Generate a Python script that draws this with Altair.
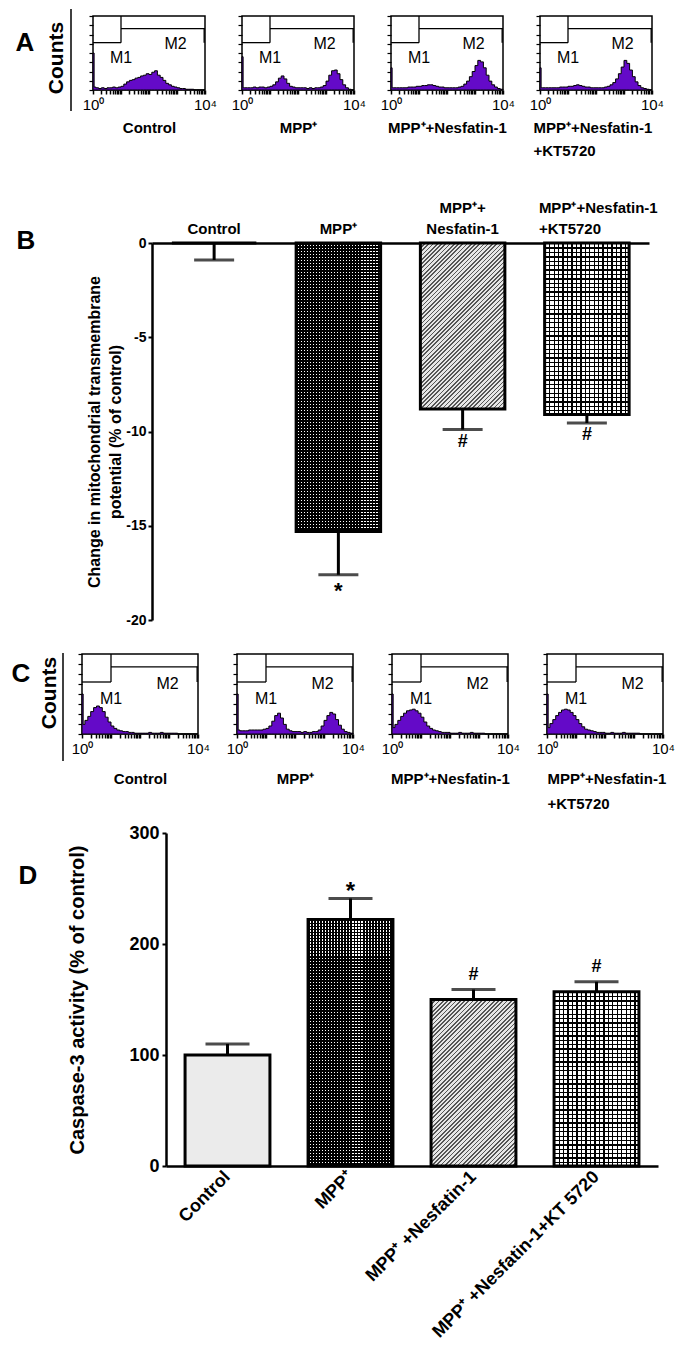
import math
import pandas as pd
import altair as alt

FONT = "Liberation Sans, Arial, Helvetica, sans-serif"
PURPLE = "#640ac8"

# ---------------- flow-cytometry histograms (fraction of box height) ----------------
# bin starts on the log10 axis: first narrow bin (first-channel spike), then 0.1-decade bins
HIST_X = [0.0, 0.04] + [round(0.1 * i, 1) for i in range(1, 41)]

A_CONTROL = [0.50, 0.04,
             0.03, 0.02, 0.03, 0.02, 0.03, 0.03, 0.04, 0.03, 0.04, 0.05,
             0.08, 0.11, 0.13, 0.14, 0.16, 0.17, 0.19, 0.20, 0.22, 0.21,
             0.24, 0.26, 0.20, 0.17, 0.13, 0.09, 0.07, 0.05, 0.04, 0.03,
             0.02, 0.02, 0.01, 0.01, 0.01, 0.00, 0.00, 0.00, 0.00, 0.00]
A_MPP = [0.45, 0.03,
         0.03, 0.03, 0.03, 0.04, 0.03, 0.04, 0.04, 0.03, 0.04, 0.05,
         0.07, 0.11, 0.16, 0.19, 0.15, 0.09, 0.05, 0.04, 0.03, 0.03,
         0.03, 0.03, 0.02, 0.03, 0.02, 0.03, 0.03, 0.04, 0.06, 0.12,
         0.20, 0.26, 0.27, 0.22, 0.14, 0.07, 0.03, 0.01, 0.00, 0.00]
A_NES = [0.30, 0.03,
         0.03, 0.03, 0.03, 0.03, 0.03, 0.04, 0.04, 0.04, 0.05, 0.05,
         0.06, 0.06, 0.07, 0.07, 0.06, 0.05, 0.04, 0.04, 0.03, 0.03,
         0.03, 0.03, 0.03, 0.04, 0.05, 0.08, 0.12, 0.18, 0.25, 0.33,
         0.40, 0.38, 0.30, 0.20, 0.12, 0.07, 0.04, 0.02, 0.01, 0.00]
A_KT = [0.30, 0.03,
        0.03, 0.03, 0.03, 0.03, 0.03, 0.03, 0.04, 0.04, 0.04, 0.05,
        0.05, 0.06, 0.07, 0.06, 0.05, 0.04, 0.04, 0.03, 0.03, 0.03,
        0.03, 0.03, 0.04, 0.05, 0.07, 0.10, 0.15, 0.22, 0.31, 0.40,
        0.36, 0.27, 0.18, 0.11, 0.06, 0.03, 0.02, 0.01, 0.00, 0.00]

C_CONTROL = [0.50, 0.12,
             0.17, 0.22, 0.28, 0.33, 0.35, 0.33, 0.28, 0.21, 0.15, 0.10,
             0.07, 0.05, 0.04, 0.03, 0.03, 0.02, 0.02, 0.01, 0.01, 0.01,
             0.01, 0.01, 0.02, 0.01, 0.01, 0.01, 0.02, 0.01, 0.01, 0.01,
             0.01, 0.01, 0.00, 0.00, 0.00, 0.00, 0.00, 0.00, 0.00, 0.00]
C_MPP = [0.50, 0.05,
         0.04, 0.04, 0.04, 0.05, 0.05, 0.05, 0.05, 0.05, 0.06, 0.07,
         0.10, 0.16, 0.23, 0.26, 0.20, 0.12, 0.06, 0.04, 0.03, 0.03,
         0.03, 0.02, 0.03, 0.02, 0.02, 0.03, 0.03, 0.05, 0.10, 0.17,
         0.23, 0.27, 0.25, 0.18, 0.11, 0.06, 0.03, 0.02, 0.01, 0.00]
C_NES = [0.50, 0.08,
         0.12, 0.17, 0.22, 0.26, 0.29, 0.30, 0.31, 0.29, 0.26, 0.21,
         0.15, 0.10, 0.07, 0.05, 0.04, 0.03, 0.02, 0.02, 0.02, 0.01,
         0.01, 0.01, 0.02, 0.01, 0.01, 0.01, 0.02, 0.01, 0.01, 0.01,
         0.01, 0.00, 0.00, 0.00, 0.00, 0.00, 0.00, 0.00, 0.00, 0.00]
C_KT = [0.50, 0.08,
        0.13, 0.18, 0.23, 0.27, 0.30, 0.31, 0.30, 0.27, 0.23, 0.18,
        0.13, 0.09, 0.06, 0.05, 0.04, 0.03, 0.02, 0.02, 0.02, 0.01,
        0.01, 0.02, 0.01, 0.01, 0.01, 0.02, 0.01, 0.01, 0.01, 0.01,
        0.01, 0.00, 0.00, 0.00, 0.00, 0.00, 0.00, 0.00, 0.00, 0.00]

HIST_TITLES = ["Control", "MPP⁺", "MPP⁺+Nesfatin-1", ["MPP⁺+Nesfatin-1", "+KT5720"]]
GATE_SPLIT = 1.0
A_M1, A_M2 = 0.64, 0.83
C_M1, C_M2 = 0.65, 0.84

# ---------------- bar panels ----------------
B_CATS = ["Control", "MPP⁺", "MPP⁺+Nesfatin-1", "MPP⁺+Nesfatin-1+KT5720"]
B_LABELS = ["Control", "MPP⁺", "MPP⁺+|Nesfatin-1", "MPP⁺+Nesfatin-1|+KT5720"]
B_MEAN = [0.0, -15.3, -8.8, -9.1]
B_SEM = [0.9, 2.3, 1.1, 0.45]
B_SIG = ["", "*", "#", "#"]

D_CATS = ["Control", "MPP⁺", "MPP⁺ +Nesfatin-1", "MPP⁺ +Nesfatin-1+KT 5720"]
D_MEAN = [100.0, 222.0, 150.0, 157.0]
D_SEM = [10.0, 19.0, 9.0, 9.0]
D_SIG = ["", "*", "#", "#"]

PATTERNS = ["plain", "checker", "diag", "grid"]

DUMMY = pd.DataFrame({"d": [0]})


# ---------------- helpers ----------------
def txt(s, x, y, size, weight="bold", angle=None):
    kw = dict(text=s, fontSize=size, fontWeight=weight, font=FONT, align="center",
              baseline="middle", color="black")
    if angle is not None:
        kw["angle"] = angle
    return alt.Chart(DUMMY).mark_text(**kw).encode(x=alt.value(x), y=alt.value(y))


def vline(x, y1, y2, width=1.5, opacity=1.0):
    return alt.Chart(DUMMY).mark_rule(color="black", strokeWidth=width, strokeOpacity=opacity).encode(
        x=alt.value(x), y=alt.value(y1), y2=alt.value(y2))


HIST_XTICKS = sorted(set([d + math.log10(k) for d in range(4) for k in range(1, 10)] + [4.0]))
HIST_YTICKS = [k / 8 for k in range(9)]


def histogram(counts, title, m1, m2, w, h, title_y, line_h, start_x=None):
    df = pd.DataFrame({"x": HIST_X, "y": counts})
    gates = pd.DataFrame({"x": [0.0, GATE_SPLIT, GATE_SPLIT, 3.97],
                          "x2": [GATE_SPLIT, 4.0, GATE_SPLIT, 3.97],
                          "y": [m1, m2, m1, m1],
                          "y2": [m1, m2, 1.0, m2]})
    marks = pd.DataFrame({"x": [1.0, 2.95], "y": [m1 - 0.21, m2 - 0.21], "t": ["M1", "M2"]})
    axis_kw = dict(values=HIST_XTICKS,
                   labelExpr="datum.value == 0 ? '10⁰' : (datum.value == 4 ? '10⁴' : '')",
                   labelOverlap=False, labelFlush=False, labelFontSize=15, labelFontWeight="normal",
                   labelPadding=3, tickSize=4, tickWidth=1.5, tickColor="black", domain=False,
                   grid=False, title=title, titleFontSize=15, titleFontWeight="bold",
                   titleY=title_y, titleBaseline="top", titleLineHeight=line_h)
    if start_x is not None:
        axis_kw.update(titleAnchor="start", titleAlign="left", titleX=start_x)
    x = alt.X("x:Q", scale=alt.Scale(domain=[0, 4], nice=False, zero=False), axis=alt.Axis(**axis_kw))
    y = alt.Y("y:Q", scale=alt.Scale(domain=[0, 1], nice=False),
              axis=alt.Axis(values=HIST_YTICKS, labels=False, title=None, domain=False, grid=False,
                            tickSize=4, tickWidth=1.2, tickColor="black"))
    area = alt.Chart(df).mark_area(interpolate="step-after", fill=PURPLE, stroke="black", strokeWidth=1)
    rules = alt.Chart(gates).mark_rule(color="black", strokeWidth=1.3).encode(x2="x2:Q", y2="y2:Q")
    text = alt.Chart(marks).mark_text(fontSize=16, baseline="middle", align="center",
                                      font=FONT).encode(text="t:N")
    return alt.layer(area, rules, text).encode(x=x, y=y).properties(
        width=w, height=h, view=alt.ViewBackground(stroke="black", strokeWidth=1.5))


def stripe_stops(n, on, on_color, off_color="rgba(255,255,255,0)"):
    stops = []
    for k in range(n):
        a = k / n
        b = (k + on) / n
        c = (k + 1) / n
        stops += [alt.GradientStop(color=on_color, offset=a),
                  alt.GradientStop(color=on_color, offset=b),
                  alt.GradientStop(color=off_color, offset=b),
                  alt.GradientStop(color=off_color, offset=c)]
    return stops


def grad_h(H, period, on, color):
    n = max(1, int(round(H / period)))
    return alt.LinearGradient(gradient="linear", stops=stripe_stops(n, on, color), x1=0, y1=0, x2=0, y2=1)


def grad_v(W, period, on, color):
    n = max(1, int(round(W / period)))
    return alt.LinearGradient(gradient="linear", stops=stripe_stops(n, on, color), x1=0, y1=0, x2=1, y2=0)


def grad_d(W, H, period, on, color):
    s = (W + H) / (W * W + H * H)
    n = max(1, int(round((W + H) / (period * math.sqrt(2)))))
    return alt.LinearGradient(gradient="linear", stops=stripe_stops(n, on, color),
                              x1=0, y1=0, x2=s * W, y2=s * H)


def pattern_layers(df, idx, kind, W, H, plain_fill):
    base = alt.Chart(df).transform_filter(alt.datum.i == idx)
    if kind == "plain" or H < 2:
        return [base.mark_bar(fill=plain_fill)]
    if kind == "checker":
        return [base.mark_bar(fill="white"),
                base.mark_bar(fill=grad_h(H, 3.0, 0.62, "black")),
                base.mark_bar(fill=grad_v(W, 3.0, 0.62, "black"))]
    if kind == "diag":
        return [base.mark_bar(fill="#e6e6e6"),
                base.mark_bar(fill=grad_d(W, H, 3.0, 0.4, "#555555"))]
    return [base.mark_bar(fill="white"),
            base.mark_bar(fill=grad_h(H, 4.4, 0.3, "black")),
            base.mark_bar(fill=grad_v(W, 4.4, 0.3, "black"))]


# ---------------- panel B ----------------
B_W, B_H = 497, 377
dfB = pd.DataFrame({"i": [0, 1, 2, 3], "cat": B_CATS, "lab": B_LABELS, "mean": B_MEAN,
                    "lo": [m - s for m, s in zip(B_MEAN, B_SEM)], "sig": B_SIG})
scaleBy = alt.Scale(domain=[-20, 0], nice=False, zero=False)
axisBy = alt.Axis(values=[0, -5, -10, -15, -20], labelExpr="toString(datum.value)",
                  title=["Change in mitochondrial transmembrane", "potential (% of control)"],
                  titleFontSize=16, titleFontWeight="bold", titleLineHeight=21, titleX=-50,
                  titleBaseline="bottom", labelFontSize=14, labelFontWeight="bold", labelPadding=2,
                  tickSize=4, tickWidth=2, domainWidth=2.5, grid=False)
xB = alt.X("cat:N", sort=B_CATS, scale=alt.Scale(paddingInner=0.32, paddingOuter=0.16),
           axis=alt.Axis(orient="top", labels=False, ticks=False, title=None, domainWidth=2.5,
                         grid=False))
yB = alt.Y("mean:Q", scale=scaleBy, axis=axisBy)
yBlo = alt.Y("lo:Q", scale=scaleBy, axis=axisBy)
bwB = B_W / 4 * (1 - 0.32)
LAB_LH = 21
layersB = []
for i, kind in enumerate(PATTERNS):
    layersB += pattern_layers(dfB, i, kind, bwB, abs(B_MEAN[i]) * B_H / 20, "white")
layersB += [
    alt.Chart(dfB).mark_bar(fillOpacity=0, stroke="black", strokeWidth=3),
    alt.Chart(dfB).mark_rule(color="black", strokeWidth=3).encode(y2="lo:Q"),
    alt.Chart(dfB).mark_tick(size=40, thickness=3, color="black").encode(y=yBlo),
    alt.Chart(dfB).transform_filter(alt.datum.sig == "*").mark_text(
        dy=16, fontSize=22, fontWeight="bold", color="black").encode(y=yBlo, text="sig:N"),
    alt.Chart(dfB).transform_filter(alt.datum.sig == "#").mark_text(
        dy=12, fontSize=18, fontWeight="bold", color="black").encode(y=yBlo, text="sig:N"),
    alt.Chart(dfB).transform_filter(alt.datum.i < 2).mark_text(
        baseline="bottom", fontSize=15, fontWeight="bold", color="black").encode(
        y=alt.value(-6), text="lab:N"),
    alt.Chart(dfB).transform_filter(alt.datum.i == 2).mark_text(
        lineBreak="|", baseline="bottom", fontSize=15, fontWeight="bold", lineHeight=LAB_LH,
        color="black").encode(y=alt.value(-6 - LAB_LH), text="lab:N"),
    alt.Chart(dfB).transform_filter(alt.datum.i == 3).mark_text(
        lineBreak="|", baseline="bottom", align="left", dx=-48, fontSize=15, fontWeight="bold",
        lineHeight=LAB_LH, color="black").encode(y=alt.value(-6 - LAB_LH), text="lab:N"),
]
chartB = alt.layer(*layersB).encode(x=xB, y=yB).properties(width=B_W, height=B_H)

# ---------------- panel D ----------------
D_W, D_H = 492, 333
dfD = pd.DataFrame({"i": [0, 1, 2, 3], "cat": D_CATS, "mean": D_MEAN,
                    "hi": [m + s for m, s in zip(D_MEAN, D_SEM)], "sig": D_SIG})
scaleDy = alt.Scale(domain=[0, 300], nice=False)
axisDy = alt.Axis(values=[0, 100, 200, 300], title="Caspase-3 activity (% of control)",
                  titleFontSize=20, titleFontWeight="bold", titleX=-79, titleBaseline="bottom",
                  labelFontSize=18, labelFontWeight="bold", labelPadding=3, tickSize=4, tickWidth=2,
                  domainWidth=2.5, grid=False)
xD = alt.X("cat:N", sort=D_CATS, scale=alt.Scale(paddingInner=0.31, paddingOuter=0.155),
           axis=alt.Axis(orient="bottom", labelAngle=-45, labelAlign="right", labelBaseline="middle",
                         labelFontSize=18, labelFontWeight="bold", labelPadding=8, labelLimit=400,
                         ticks=False, title=None, domainWidth=2.5, grid=False))
yD = alt.Y("mean:Q", scale=scaleDy, axis=axisDy)
yDhi = alt.Y("hi:Q", scale=scaleDy, axis=axisDy)
bwD = D_W / 4 * (1 - 0.31)
layersD = []
for i, kind in enumerate(PATTERNS):
    layersD += pattern_layers(dfD, i, kind, bwD, D_MEAN[i] * D_H / 300, "#ebebeb")
layersD += [
    alt.Chart(dfD).mark_bar(fillOpacity=0, stroke="black", strokeWidth=3),
    alt.Chart(dfD).mark_rule(color="black", strokeWidth=3).encode(y2="hi:Q"),
    alt.Chart(dfD).mark_tick(size=44, thickness=3, color="black").encode(y=yDhi),
    alt.Chart(dfD).transform_filter(alt.datum.sig == "*").mark_text(
        dy=-6, fontSize=24, fontWeight="bold", color="black").encode(y=yDhi, text="sig:N"),
    alt.Chart(dfD).transform_filter(alt.datum.sig == "#").mark_text(
        dy=-15, fontSize=18, fontWeight="bold", color="black").encode(y=yDhi, text="sig:N"),
]
chartD = alt.layer(*layersD).encode(x=xD, y=yD).properties(width=D_W, height=D_H)

# ---------------- histogram rows ----------------
A_W, A_H = 112, 74
C_W, C_H = 116, 80
histsA = [
    histogram(A_CONTROL, HIST_TITLES[0], A_M1, A_M2, A_W, A_H, 30, 23),
    histogram(A_MPP, HIST_TITLES[1], A_M1, A_M2, A_W, A_H, 30, 23),
    histogram(A_NES, HIST_TITLES[2], A_M1, A_M2, A_W, A_H, 30, 23),
    histogram(A_KT, HIST_TITLES[3], A_M1, A_M2, A_W, A_H, 30, 23, start_x=-7),
]
histsC = [
    histogram(C_CONTROL, HIST_TITLES[0], C_M1, C_M2, C_W, C_H, 37, 25),
    histogram(C_MPP, HIST_TITLES[1], C_M1, C_M2, C_W, C_H, 37, 25),
    histogram(C_NES, HIST_TITLES[2], C_M1, C_M2, C_W, C_H, 37, 25),
    histogram(C_KT, HIST_TITLES[3], C_M1, C_M2, C_W, C_H, 37, 25, start_x=0),
]

# ---------------- left-hand spacers (panel letters, "Counts") ----------------
spA = alt.layer(vline(0, -7, 160, 1, 0.0), txt("A", 17, 27, 26),
                txt("Counts", 49, 42, 21, angle=270), vline(63, -7, 95, 1.5)).properties(width=48, height=A_H)
spB = alt.layer(vline(0, -67, 398, 1, 0.0), txt("B", 18, -2, 26)).properties(width=144, height=B_H)
spC = alt.layer(vline(0, -13, 165, 1, 0.0), txt("C", 13, 20, 26),
                txt("Counts", 42, 39, 21, angle=270), vline(55, -1, 107, 1.5)).properties(width=35, height=C_H)
spD = alt.layer(vline(0, -14, 480, 1, 0.0), txt("D", 20, 43, 26)).properties(width=158, height=D_H)

rowA = alt.hconcat(spA, *histsA, spacing=37, bounds="flush")
rowB = alt.hconcat(spB, chartB, spacing=0, bounds="flush")
rowC = alt.hconcat(spC, *histsC, spacing=39, bounds="flush")
rowD = alt.hconcat(spD, chartD, spacing=0, bounds="flush")

chart = alt.vconcat(rowA, rowB, rowC, rowD, spacing=0).properties(padding=0).configure(
    font=FONT).configure_view(stroke=None).configure_axis(
    labelColor="black", titleColor="black", domainColor="black", tickColor="black",
    labelFont=FONT, titleFont=FONT)

chart.save("out.html", embed_options={"renderer": "svg", "actions": False})
